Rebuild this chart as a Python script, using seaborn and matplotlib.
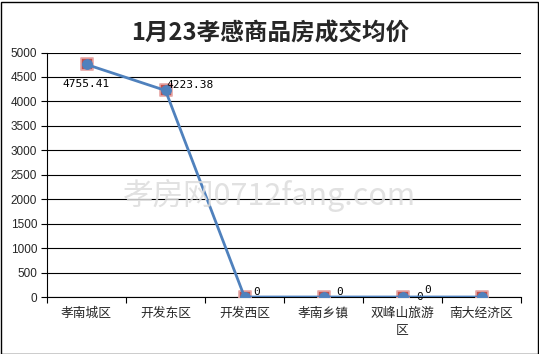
import matplotlib
matplotlib.use("Agg")
import matplotlib.pyplot as plt
import seaborn as sns
import pandas as pd
from matplotlib.patches import Rectangle

categories = ["孝南城区", "开发东区", "开发西区", "孝南乡镇", "双峰山旅游\n区", "南大经济区"]
series_a = [4755.41, 4223.38, 0, 0, 0, 0]
series_b = [4755.41, 4223.38, 0, 0, 0, 0]
title = "1月23孝感商品房成交均价"
yticks = list(range(0, 5001, 500))

sns.set_theme(style="white")
plt.rcParams['font.family'] = ['Noto Sans CJK SC', 'DejaVu Sans']

W, H = 539, 354
fig = plt.figure(figsize=(W / 100, H / 100), dpi=100)
ax = fig.add_axes([47 / W, 1 - 297 / H, (521 - 47) / W, (297 - 52.5) / H])

df = pd.DataFrame({"idx": range(len(categories)), "a": series_a, "b": series_b})

sns.scatterplot(data=df, x="idx", y="a", ax=ax, marker="s", s=70,
                color="#C0504D", edgecolor="#E6A7A6", linewidth=1.2, zorder=3)
sns.lineplot(data=df, x="idx", y="b", ax=ax, color="#4F81BD", linewidth=2,
             marker="o", markersize=7, markeredgecolor="#4F81BD", zorder=4)

ax.set_xlim(-0.5, len(categories) - 0.5)
ax.set_ylim(0, 5000)
ax.set_yticks(yticks)
ax.set_yticklabels([str(v) for v in yticks], fontsize=8.5, family=['Liberation Sans', 'DejaVu Sans'])
ax.set_xticks(range(len(categories)))
ax.set_xticklabels(categories, fontsize=9.2, linespacing=1.4)
ax.set_xticks([i - 0.5 for i in range(len(categories) + 1)], minor=True)
ax.tick_params(axis="x", which="major", length=0, pad=7)
ax.tick_params(axis="x", which="minor", length=4, width=0.8, color="black", direction="out", bottom=True)
ax.tick_params(axis="y", length=4, width=0.8, color="black", direction="out", left=True, pad=3)
ax.set_xlabel("")
ax.set_ylabel("")
ax.grid(axis="y", color="black", linewidth=0.8)
ax.set_axisbelow(True)
for s in ["top", "right"]:
    ax.spines[s].set_visible(False)
ax.spines["left"].set_color("black")
ax.spines["bottom"].set_color("black")
ax.spines["left"].set_linewidth(0.8)
ax.spines["bottom"].set_linewidth(0.8)

# data labels
lab_kw = dict(fontsize=8, family=['DejaVu Sans Mono', 'DejaVu Sans'], color="black")
ax.annotate(f"{series_a[0]:.2f}", (0, series_a[0]), xytext=(0, -14), textcoords="offset points",
            ha="center", va="center", **lab_kw)
ax.annotate(f"{series_a[1]:.2f}", (1, series_a[1]), xytext=(1, 4), textcoords="offset points",
            ha="left", va="center", **lab_kw)
offsets = {2: [(6, 3.6)], 3: [(9.5, 3.6)], 4: [(10, 0), (16, 5)]}
for i, offs in offsets.items():
    for dx, dy in offs:
        ax.annotate(f"{series_b[i]:g}", (i, series_b[i]), xytext=(dx, dy), textcoords="offset points",
                    ha="left", va="center", **lab_kw)

# watermark
fig.text(270 / W, 1 - 195 / H, "孝房网0712fang.com", fontsize=22, color="#DCDCDC",
         ha="center", va="center", alpha=0.85, zorder=0)

fig.text(270 / W, 1 - 34 / H, title, fontsize=17, fontweight="bold", ha="center", va="center")

fig.patches.append(Rectangle((0.5 / W, 0.5 / H), 1 - 2 / W, 1 - 2 / H, transform=fig.transFigure,
                             fill=False, edgecolor="black", linewidth=1))

fig.savefig("out.png", dpi=100)
